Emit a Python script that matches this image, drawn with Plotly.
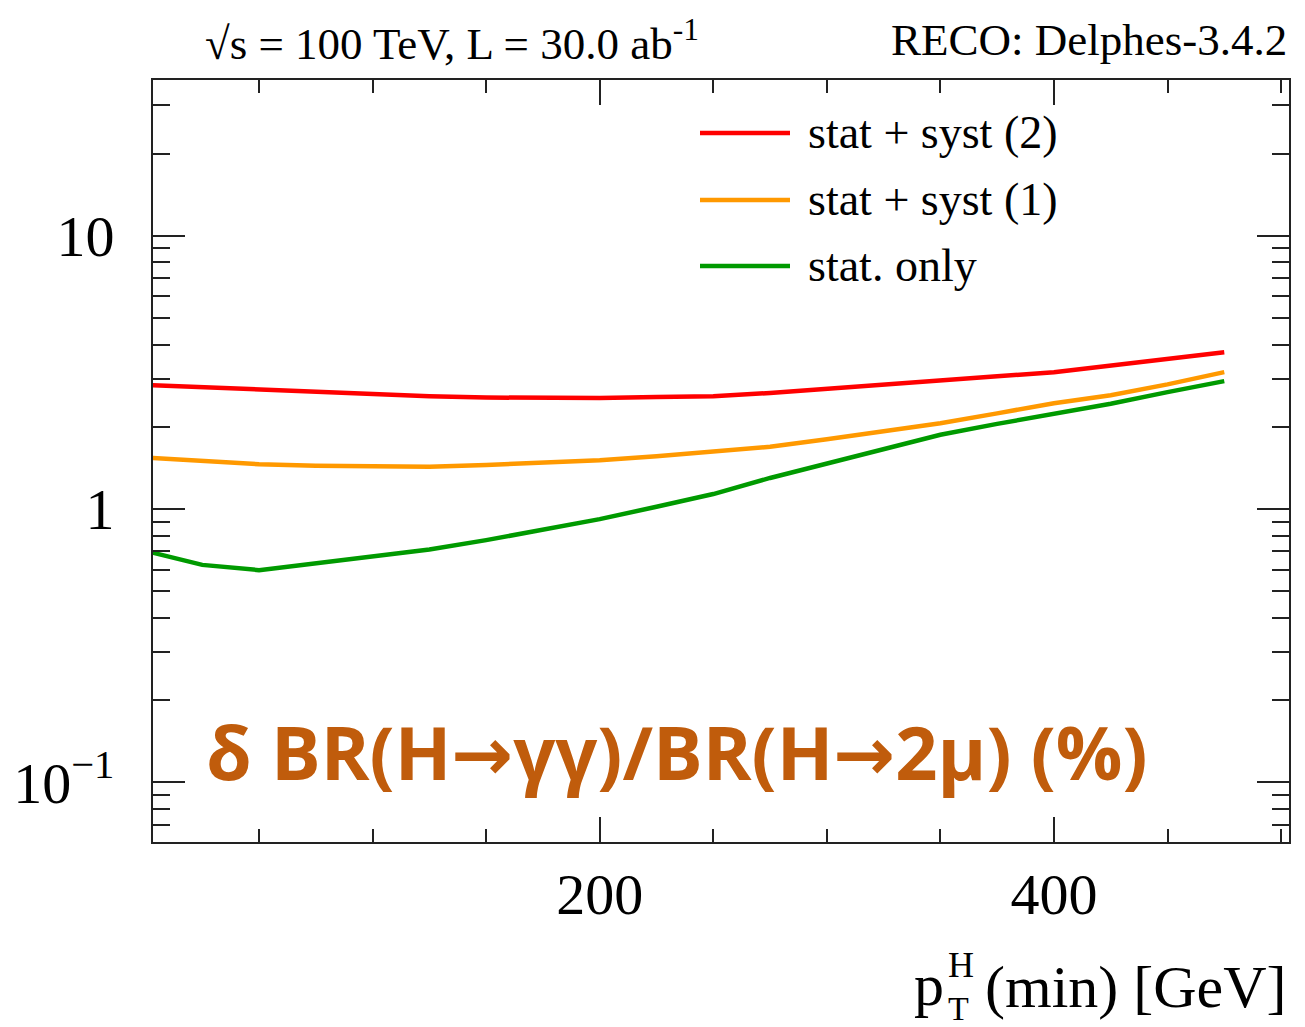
import plotly.graph_objects as go

# ---- data ----
pt_min = [3, 25, 50, 75, 100, 125, 150, 175, 200, 225, 250, 275, 300, 325, 350, 375, 400, 425, 450, 475]
stat_syst2 = [2.84, 2.79, 2.75, 2.70, 2.65, 2.59, 2.56, 2.55, 2.55, 2.57, 2.59, 2.66, 2.75, 2.84, 2.95, 3.06, 3.17, 3.36, 3.54, 3.75]
stat_syst1 = [1.54, 1.50, 1.46, 1.44, 1.43, 1.43, 1.45, 1.48, 1.51, 1.56, 1.62, 1.69, 1.80, 1.93, 2.06, 2.24, 2.44, 2.61, 2.86, 3.17]
stat_only = [0.693, 0.625, 0.598, 0.632, 0.668, 0.711, 0.770, 0.838, 0.919, 1.02, 1.135, 1.30, 1.47, 1.66, 1.87, 2.05, 2.23, 2.43, 2.68, 2.94]

series_names = ["stat + syst (2)", "stat + syst (1)", "stat. only"]
series_colors = ["#ff0000", "#ff9900", "#009a00"]
series_values = [stat_syst2, stat_syst1, stat_only]

y_tickvals = [0.1, 1, 10]
y_ticktext = ["10<sup>\u22121</sup>", "1", "10"]
y_minor = [0.07, 0.08, 0.09, 0.2, 0.3, 0.4, 0.5, 0.6, 0.7, 0.8, 0.9,
           2, 3, 4, 5, 6, 7, 8, 9, 20, 30]
x_tickvals = [200, 400]
x_ticktext = ["200", "400"]
x_minor = [50, 100, 150, 250, 300, 350, 450, 500]

# ---- layout geometry (pixels) ----
W, H = 1305, 1027
L, R, T, B = 153, 16, 80, 184.5
PW, PH = W - L - R, H - T - B


def px(x):
    return (x - L) / PW


def py(y):
    return (H - B - y) / PH


SERIF = "Liberation Serif"

fig = go.Figure()
for name, col, vals in zip(series_names, series_colors, series_values):
    fig.add_trace(go.Scatter(x=pt_min, y=vals, mode="lines", name=name,
                             line=dict(color=col, width=4.5), showlegend=False))

fig.update_layout(
    width=W, height=H,
    margin=dict(l=L, r=R, t=T, b=B, pad=0, autoexpand=False),
    paper_bgcolor="white", plot_bgcolor="white",
    font=dict(family=SERIF, color="black"),
)

fig.update_xaxes(
    range=[3.3, 503.5], showgrid=False, zeroline=False, automargin=False,
    showline=True, linecolor="#222", linewidth=2, mirror="ticks",
    ticks="inside", ticklen=25, tickwidth=2, tickcolor="#222",
    tickmode="array", tickvals=x_tickvals, ticktext=x_ticktext,
    tickfont=dict(family=SERIF, size=58, color="black"),
    ticklabelstandoff=0,
    minor=dict(ticks="inside", ticklen=13, tickwidth=2, tickcolor="#222",
               tickmode="array", tickvals=x_minor, showgrid=False),
)
fig.update_yaxes(
    type="log", range=[-1.218, 1.570], showgrid=False, zeroline=False, automargin=False,
    showline=True, linecolor="#222", linewidth=2, mirror="ticks",
    ticks="inside", ticklen=32, tickwidth=2, tickcolor="#222",
    tickmode="array", tickvals=y_tickvals, ticktext=y_ticktext,
    tickfont=dict(family=SERIF, size=58, color="black"),
    ticklabelstandoff=25,
    minor=dict(ticks="inside", ticklen=17, tickwidth=2, tickcolor="#222",
               tickmode="array", tickvals=y_minor, showgrid=False),
)

ann = []
# header texts
ann.append(dict(text="\u221as = 100 TeV, L = 30.0 ab<sup>-1</sup>", x=px(203), y=py(40),
                xanchor="left", yanchor="middle", font=dict(family=SERIF, size=45)))
ann.append(dict(text="RECO: Delphes-3.4.2", x=px(1289), y=py(40),
                xanchor="right", yanchor="middle", font=dict(family=SERIF, size=45)))

# legend (manual)
leg_y = [133, 200, 266]
shapes = []
for name, col, yy in zip(series_names, series_colors, leg_y):
    shapes.append(dict(type="line", xref="paper", yref="paper",
                       x0=px(700), x1=px(790), y0=py(yy), y1=py(yy),
                       line=dict(color=col, width=4.5)))
    ann.append(dict(text=name, x=px(806), y=py(yy), xanchor="left", yanchor="middle",
                    font=dict(family=SERIF, size=46)))

# big orange label
arrow = "<span style=\"font-family:'DejaVu Sans'\">\u2192</span>"
ann.append(dict(text="<b>\u03b4 BR(H" + arrow + "\u03b3\u03b3)/BR(H" + arrow + "2\u03bc) (%)</b>",
                x=px(677), y=py(752), xanchor="center", yanchor="middle",
                font=dict(family="Open Sans", size=74, color="#c05c0c")))

# x axis title: p_T^H (min) [GeV]
ann.append(dict(text="(min) [GeV]", x=px(1289), y=py(988), xanchor="right", yanchor="middle",
                font=dict(family=SERIF, size=60)))
ann.append(dict(text="p", x=px(946), y=py(986), xanchor="right", yanchor="middle",
                font=dict(family=SERIF, size=60)))
ann.append(dict(text="H", x=px(946), y=py(966), xanchor="left", yanchor="middle",
                font=dict(family=SERIF, size=36)))
ann.append(dict(text="T", x=px(946), y=py(1009), xanchor="left", yanchor="middle",
                font=dict(family=SERIF, size=34)))

for a in ann:
    a.update(xref="paper", yref="paper", showarrow=False)
fig.update_layout(annotations=ann, shapes=shapes)

fig.write_html("out.html")
